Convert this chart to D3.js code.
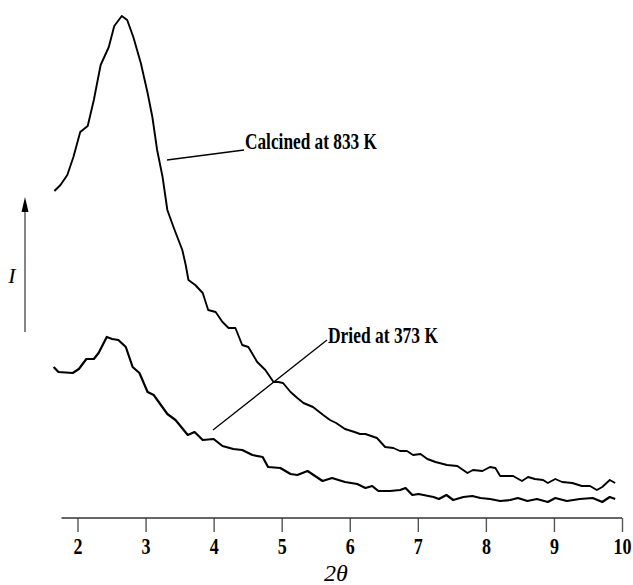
<!DOCTYPE html>
<html>
<head>
<meta charset="utf-8"/>
<title>XRD 2theta</title>
<style type="text/css">
    body, html {width:100%;height:100%;margin:0;overflow:hidden;background:#fff;}
    svg {display:block;}
</style>
<script src="https://cdn.jsdelivr.net/npm/d3@7/dist/d3.min.js"></script>
</head>
<body>
<div id="chart"></div>
<script>
// 2theta readings (deg) and intensity (arbitrary units)
var calcinedX = [1.66,1.75,1.85,1.94,2.04,2.15,2.24,2.34,2.46,2.54,2.65,2.73,2.82,2.93,3.03,3.10,3.17,3.25,3.32,3.41,3.54,3.59,3.63,3.73,3.84,3.92,4.03,4.13,4.22,4.32,4.42,4.51,4.64,4.76,4.88,4.95,5.02,5.13,5.23,5.32,5.46,5.61,5.71,5.80,5.93,6.07,6.15,6.23,6.40,6.52,6.64,6.74,6.84,6.93,7.04,7.14,7.26,7.43,7.58,7.73,7.81,7.95,8.06,8.14,8.21,8.40,8.53,8.62,8.72,8.84,8.91,9.02,9.12,9.27,9.41,9.53,9.63,9.71,9.82,9.90];
var calcinedI = [65.4,66.6,68.6,72.2,77.2,78.4,83.6,90.6,94.2,98.4,100.4,99.6,96.2,91.0,85.0,80.2,73.6,68.2,61.6,58.2,53.6,50.6,47.6,46.6,45.0,41.6,41.2,39.2,38.0,38.0,34.6,34.2,31.2,29.6,27.2,27.2,27.0,25.2,24.0,23.0,22.2,20.6,19.6,19.0,17.8,17.2,16.8,16.8,16.0,14.2,14.0,13.4,13.4,12.6,12.8,11.8,11.2,10.6,10.4,9.0,9.6,9.4,10.2,10.0,8.4,8.4,7.4,8.2,7.8,7.6,7.0,7.8,7.2,7.0,6.4,6.4,5.6,6.2,7.6,7.0];

var driedX = [1.65,1.72,1.93,2.02,2.13,2.24,2.31,2.43,2.51,2.60,2.71,2.81,2.91,3.03,3.12,3.32,3.44,3.62,3.72,3.84,4.00,4.13,4.29,4.42,4.57,4.72,4.80,4.98,5.13,5.23,5.38,5.60,5.74,5.93,6.11,6.23,6.33,6.42,6.59,6.74,6.82,6.92,7.01,7.23,7.31,7.42,7.52,7.67,7.80,7.92,8.06,8.21,8.36,8.47,8.61,8.75,8.91,9.02,9.19,9.38,9.57,9.71,9.82,9.90];
var driedI = [30.2,29.2,29.0,29.8,31.8,31.8,33.0,36.2,35.8,35.6,34.2,30.2,29.0,25.2,24.6,20.8,19.6,16.6,17.2,15.6,15.8,14.4,13.8,13.6,12.6,12.2,10.2,10.0,8.8,8.6,9.4,7.4,8.0,7.2,6.8,6.0,6.4,5.4,5.4,5.6,6.0,4.6,4.8,4.2,3.8,4.6,3.6,4.2,4.4,4.0,3.8,3.4,3.6,4.0,3.4,3.8,3.2,4.0,3.4,3.8,4.0,3.2,4.2,3.8];

var tickValues = [2,3,4,5,6,7,8,9,10];
var xStart = 1.765; // where the printed axis line begins

var width = 633, height = 585;

var svg = d3.select("#chart").append("svg")
    .attr("width", width)
    .attr("height", height);

var x = d3.scaleLinear().domain([2, 10]).range([77.5, 622]);
var y = d3.scaleLinear().domain([0, 100]).range([518, 18]);

// x axis
var axis = d3.axisBottom(x)
    .tickValues(tickValues)
    .tickFormat(d3.format("d"))
    .tickSize(14)
    .tickSizeOuter(0)
    .tickPadding(5);

var gx = svg.append("g")
    .attr("transform", "translate(0," + y(0) + ")")
    .call(axis);
gx.select(".domain").remove();
gx.selectAll(".tick line").attr("stroke", "#555").attr("stroke-width", 1.4);
gx.selectAll(".tick text")
    .attr("fill", "#000")
    .attr("font-family", "Liberation Serif")
    .attr("font-weight", "bold")
    .attr("font-size", 24)
    .attr("transform", "scale(0.75,1)");
gx.append("line")
    .attr("x1", x(xStart)).attr("x2", x(10))
    .attr("y1", 0).attr("y2", 0)
    .attr("stroke", "#333").attr("stroke-width", 1.5);

svg.append("text")
    .attr("x", 336).attr("y", 581)
    .attr("text-anchor", "middle")
    .attr("font-family", "Liberation Serif")
    .attr("font-style", "italic")
    .attr("font-size", 24)
    .text("2θ");

// intensity arrow
svg.append("line")
    .attr("x1", 25).attr("x2", 25)
    .attr("y1", 332).attr("y2", 205)
    .attr("stroke", "#444").attr("stroke-width", 1.3);
svg.append("path")
    .attr("d", "M25,197 L21.5,212 L28.5,212 Z")
    .attr("fill", "#000");

svg.append("text")
    .attr("x", 12).attr("y", 283)
    .attr("text-anchor", "middle")
    .attr("font-family", "Liberation Serif")
    .attr("font-style", "italic")
    .attr("font-size", 22)
    .text("I");

// curves
var line = d3.line()
    .x(function (d) { return x(d[0]); })
    .y(function (d) { return y(d[1]); });

var calcined = d3.zip(calcinedX, calcinedI);
var dried = d3.zip(driedX, driedI);

svg.append("path")
    .datum(calcined)
    .attr("d", line)
    .attr("fill", "none")
    .attr("stroke", "#000")
    .attr("stroke-width", 1.9)
    .attr("stroke-linejoin", "round");

svg.append("path")
    .datum(dried)
    .attr("d", line)
    .attr("fill", "none")
    .attr("stroke", "#000")
    .attr("stroke-width", 2.2)
    .attr("stroke-linejoin", "round");

// labels with leader lines
function label(txt, tx, ty, len, lx1, ly1, lx2, ly2) {
    svg.append("line")
        .attr("x1", lx1).attr("y1", ly1)
        .attr("x2", lx2).attr("y2", ly2)
        .attr("stroke", "#000").attr("stroke-width", 1.3);
    svg.append("text")
        .attr("x", tx).attr("y", ty)
        .attr("font-family", "Liberation Serif")
        .attr("font-weight", "bold")
        .attr("font-size", 24)
        .attr("textLength", len)
        .attr("lengthAdjust", "spacingAndGlyphs")
        .text(txt);
}
label("Calcined at 833 K", 245, 149, 132, 167, 160, 244, 150);
label("Dried at 373 K", 328, 343, 110, 327, 340, 213, 430);
</script>
</body>
</html>
